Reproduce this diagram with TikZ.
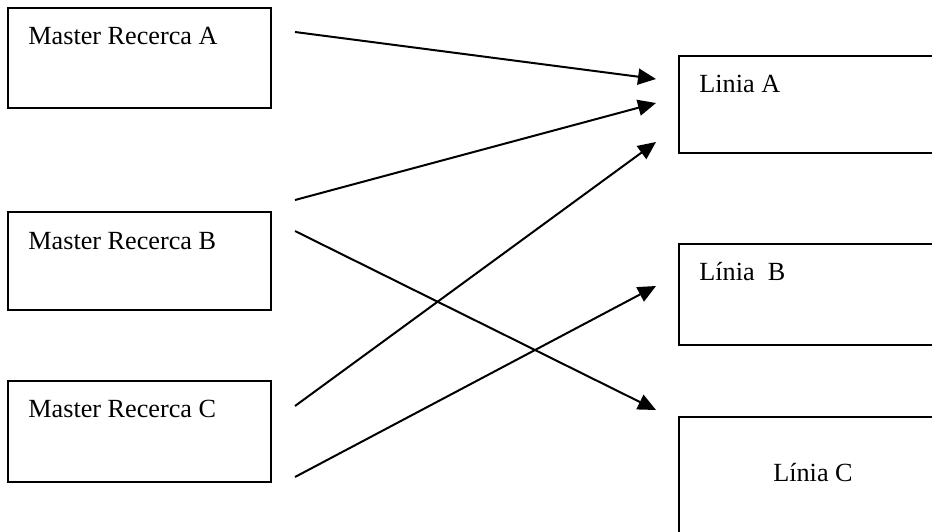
\documentclass[tikz,border=0pt]{standalone}
\usepackage{fontspec}
\setmainfont{Liberation Serif}
\usetikzlibrary{arrows.meta}

\begin{document}
\begin{tikzpicture}[x=0.5pt,y=-0.5pt]
\tikzstyle{box}=[line width=1pt]
\tikzstyle{txt}=[inner sep=0pt,anchor=base west,font=\fontsize{13.1}{15}\selectfont]
\tikzstyle{link}=[line width=1pt,-{Triangle[length=9pt,width=8pt]}]

\useasboundingbox (0,0) rectangle (932,531);
\clip (0,0) rectangle (932,531);

\draw[box] (8,8) rectangle (271,108);
\draw[box] (8,212) rectangle (271,310);
\draw[box] (8,381) rectangle (271,482);

\draw[box] (679,56) rectangle (945,153);
\draw[box] (679,244) rectangle (945,345);
\draw[box] (679,417) rectangle (945,545);

\node[txt] (ma) at (28,44) {Master Recerca A};
\node[txt] (mb) at (28,249) {Master Recerca B};
\node[txt] (mc) at (28,417) {Master Recerca C};

\node[txt] (la) at (699,92) {Linia A};
\node[txt] (lb) at (699,280) {Línia \ B};
\node[txt,anchor=base] (lc) at (813,481) {Línia C};

% arrow ends
\coordinate (a0) at (295,32);
\coordinate (b0) at (295,200);
\coordinate (b1) at (295,231);
\coordinate (c0) at (295,406);
\coordinate (c1) at (295,477);

\coordinate (ta) at (656,79);
\coordinate (tb) at (656,103);
\coordinate (tc) at (656,142);
\coordinate (td) at (656,286);
\coordinate (te) at (656,410);

\draw[link] (a0) -- (ta);
\draw[link] (b0) -- (tb);
\draw[link] (b1) -- (te);
\draw[link] (c0) -- (tc);
\draw[link] (c1) -- (td);

\end{tikzpicture}
\end{document}
